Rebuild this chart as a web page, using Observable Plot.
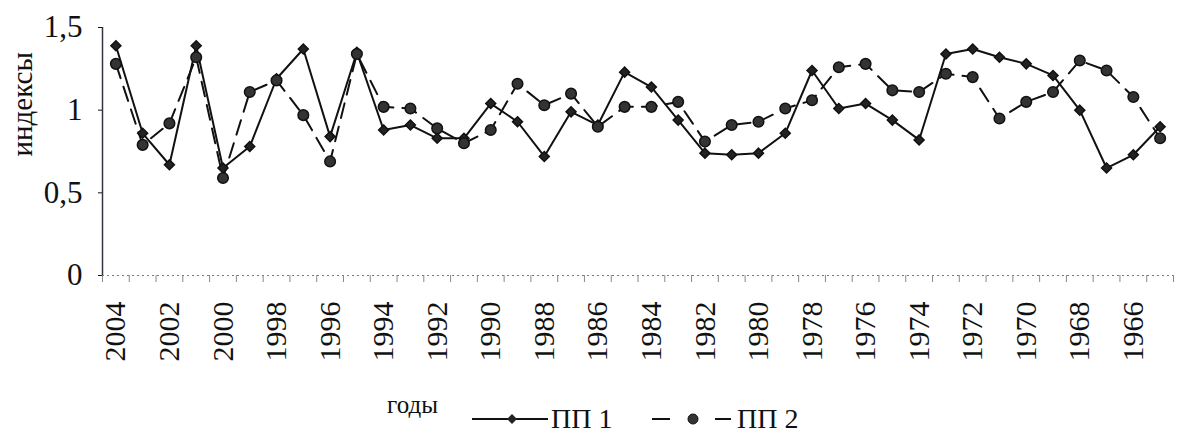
<!DOCTYPE html>
<html>
<head>
<meta charset="utf-8">
<script src="https://cdn.jsdelivr.net/npm/d3@7"></script>
<script src="https://cdn.jsdelivr.net/npm/@observablehq/plot@0.6"></script>
<style>
  html, body { margin: 0; padding: 0; background: #fff; }
  #wrap { width: 1178px; height: 435px; position: relative; font-family: "Liberation Serif", "DejaVu Serif", serif; }
  #legend { display: block; }
</style>
</head>
<body>
<div id="wrap"></div>
<script>
const years = [2004, 2003, 2002, 2001, 2000, 1999, 1998, 1997, 1996, 1995,
               1994, 1993, 1992, 1991, 1990, 1989, 1988, 1987, 1986, 1985,
               1984, 1983, 1982, 1981, 1980, 1979, 1978, 1977, 1976, 1975,
               1974, 1973, 1972, 1971, 1970, 1969, 1968, 1967, 1966, 1965];
const pp1 = [1.39, 0.86, 0.67, 1.39, 0.65, 0.78, 1.19, 1.37, 0.84, 1.35,
             0.88, 0.91, 0.83, 0.83, 1.04, 0.93, 0.72, 0.99, 0.91, 1.23,
             1.14, 0.94, 0.74, 0.73, 0.74, 0.86, 1.24, 1.01, 1.04, 0.94,
             0.82, 1.34, 1.37, 1.32, 1.28, 1.21, 1.00, 0.65, 0.73, 0.90];
const pp2 = [1.28, 0.79, 0.92, 1.32, 0.59, 1.11, 1.18, 0.97, 0.69, 1.34,
             1.02, 1.01, 0.89, 0.80, 0.88, 1.16, 1.03, 1.10, 0.90, 1.02,
             1.02, 1.05, 0.81, 0.91, 0.93, 1.01, 1.06, 1.26, 1.28, 1.12,
             1.11, 1.22, 1.20, 0.95, 1.05, 1.11, 1.30, 1.24, 1.08, 0.83];
const labeledYears = [2004, 2002, 2000, 1998, 1996, 1994, 1992, 1990, 1988, 1986,
                      1984, 1982, 1980, 1978, 1976, 1974, 1972, 1970, 1968, 1966];
const yTicks = [0, 0.5, 1, 1.5];
const seriesNames = ["ПП 1", "ПП 2"];
const yTitle = "индексы";
const xTitle = "годы";

const data = years.map((yr, i) => ({year: yr, pp1: pp1[i], pp2: pp2[i]}));
const xStart = years[0] + 0.5;
const xEnd = years[years.length - 1] - 0.5;
const boundaries = [xStart, ...years.map(y => y - 0.5)];
const font = "Liberation Serif";

const chart = Plot.plot({
  width: 1178,
  height: 380,
  marginLeft: 102,
  marginRight: 5,
  marginTop: 27,
  marginBottom: 105,
  style: {fontFamily: font, background: "transparent", color: "#111"},
  x: {domain: [xStart, xEnd], axis: null, label: null},
  y: {domain: [0, 1.5], axis: null, label: null},
  marks: [
    Plot.ruleY([0], {stroke: "#777", strokeDasharray: "2,3"}),
    Plot.axisX({ticks: boundaries, tickSize: 7, tickFormat: () => "", stroke: "#888", label: null}),
    Plot.axisX({ticks: labeledYears, tickSize: 0, tickPadding: 26, tickRotate: -90,
                tickFormat: d => String(d), fontSize: 30, label: null}),
    Plot.axisY({ticks: yTicks, tickSize: 4, tickPadding: 16,
                tickFormat: d => String(d).replace(".", ","), fontSize: 31, label: null}),
    Plot.ruleX([xStart], {stroke: "#334", strokeWidth: 1.5}),
    Plot.text([yTitle], {frameAnchor: "left", rotate: -90, dx: -80, dy: 5, fontSize: 29, fill: "#111"}),
    Plot.line(data, {x: "year", y: "pp1", stroke: "#111", strokeWidth: 2}),
    Plot.line(data, {x: "year", y: "pp2", stroke: "#111", strokeWidth: 2, strokeDasharray: "15,9"}),
    Plot.dot(data, {x: "year", y: "pp1", symbol: "diamond2", r: 4.5, fill: "#222", stroke: "#111"}),
    Plot.dot(data, {x: "year", y: "pp2", r: 5.3, fill: "#333", stroke: "#111"})
  ]
});
document.getElementById("wrap").appendChild(chart);

// legend below the chart
const ns = "http://www.w3.org/2000/svg";
const leg = document.createElementNS(ns, "svg");
leg.setAttribute("width", 1178);
leg.setAttribute("height", 55);
leg.setAttribute("id", "legend");
leg.style.fontFamily = font;
function el(name, attrs, text) {
  const e = document.createElementNS(ns, name);
  for (const k in attrs) e.setAttribute(k, attrs[k]);
  if (text) e.textContent = text;
  leg.appendChild(e);
  return e;
}
el("text", {x: 387, y: 33, "font-size": 25, fill: "#111"}, xTitle);
// ПП 1
el("line", {x1: 472, x2: 548, y1: 39, y2: 39, stroke: "#111", "stroke-width": 2});
el("path", {d: "M512,34 L517,39 L512,44 L507,39 Z", fill: "#222"});
el("text", {x: 551, y: 48, "font-size": 28, fill: "#111"}, seriesNames[0]);
// ПП 2
el("line", {x1: 652, x2: 670, y1: 39, y2: 39, stroke: "#111", "stroke-width": 2});
el("line", {x1: 715, x2: 731, y1: 39, y2: 39, stroke: "#111", "stroke-width": 2});
el("circle", {cx: 693, cy: 39, r: 5, fill: "#333", stroke: "#111"});
el("text", {x: 737, y: 48, "font-size": 28, fill: "#111"}, seriesNames[1]);
document.getElementById("wrap").appendChild(leg);
</script>
</body>
</html>
